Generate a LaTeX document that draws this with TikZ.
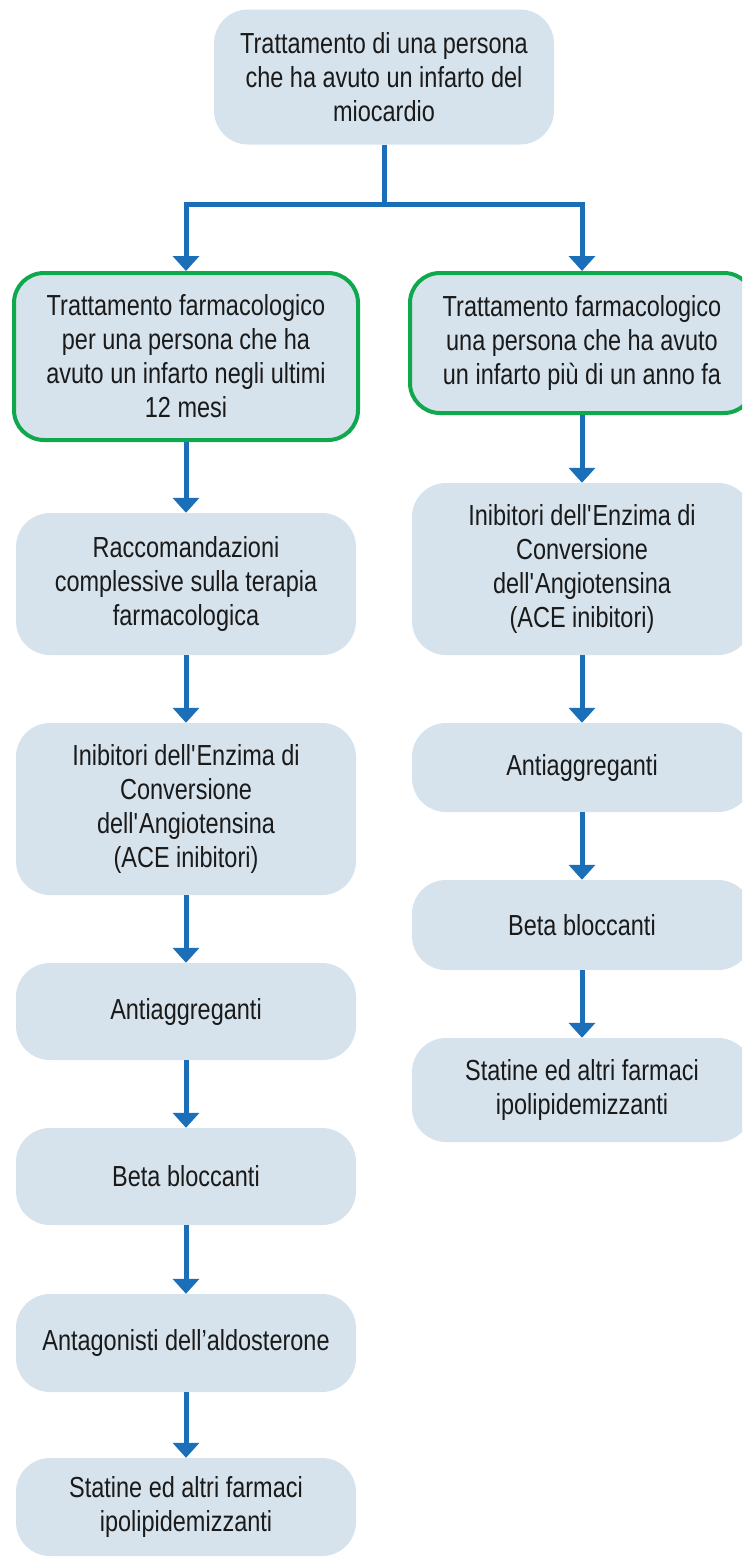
\documentclass[tikz,border=0pt]{standalone}
\usepackage{fontspec}
\setmainfont{Liberation Sans}[FakeStretch=0.81]
\usetikzlibrary{arrows.meta}
\definecolor{boxfill}{RGB}{214,227,236}
\definecolor{arrblue}{RGB}{27,111,184}
\definecolor{boxgreen}{RGB}{16,168,76}
\definecolor{txtgray}{RGB}{26,26,26}
\newcommand{\apo}{\textquotesingle}
\begin{document}
\begin{tikzpicture}[x=1pt, y=-1pt,
        box/.style={fill=boxfill, rounded corners=34pt, minimum width=340pt, align=center,
            text=txtgray, font=\fontsize{29}{34}\selectfont, inner sep=0pt},
        gbox/.style={box, draw=boxgreen, line width=4pt, rounded corners=30pt, minimum width=344pt},
        arr/.style={draw=arrblue, line width=5pt, -{Triangle[width=26pt,length=15pt]}},
        conn/.style={draw=arrblue, line width=5pt}]
    \useasboundingbox (0,0) rectangle (742,1559);
    \clip (0,0) rectangle (742,1559);
    % top
    \node[box, minimum width=340pt, minimum height=135pt] (trat) at (384,77)
        {Trattamento di una persona\\che ha avuto un infarto del\\miocardio};
    \coordinate (split) at (384,204);
    % left column
    \node[gbox, minimum height=167pt] (farmA) at (186,356.5)
        {Trattamento farmacologico\\per una persona che ha\\avuto un infarto negli ultimi\\12 mesi};
    \node[box, minimum height=142pt] (racc) at (186,584)
        {Raccomandazioni\\complessive sulla terapia\\farmacologica};
    \node[box, minimum height=172pt] (aceA) at (186,809)
        {Inibitori dell\apo Enzima di\\Conversione\\dell\apo Angiotensina\\(ACE inibitori)};
    \node[box, minimum height=97pt] (antiA) at (186,1011.5) {Antiaggreganti};
    \node[box, minimum height=97pt] (betaA) at (186,1176.5) {Beta bloccanti};
    \node[box, minimum height=98pt] (aldo) at (186,1343) {Antagonisti dell’aldosterone};
    \node[box, minimum height=98pt] (statA) at (186,1507)
        {Statine ed altri farmaci\\ipolipidemizzanti};
    % right column
    \node[gbox, minimum height=140pt] (farmB) at (582,343)
        {Trattamento farmacologico\\una persona che ha avuto\\un infarto più di un anno fa};
    \node[box, minimum height=172pt] (aceB) at (582,569)
        {Inibitori dell\apo Enzima di\\Conversione\\dell\apo Angiotensina\\(ACE inibitori)};
    \node[box, minimum height=89pt] (antiB) at (582,767.5) {Antiaggreganti};
    \node[box, minimum height=90pt] (betaB) at (582,925) {Beta bloccanti};
    \node[box, minimum height=104pt] (statB) at (582,1090)
        {Statine ed altri farmaci\\ipolipidemizzanti};
    % connectors
    \draw[conn] (trat) -- (split);
    \draw[arr] (split) -| (farmA);
    \draw[arr] (split) -| (farmB);
    \foreach \a/\b in {farmA/racc, racc/aceA, aceA/antiA, antiA/betaA, betaA/aldo, aldo/statA,
                       farmB/aceB, aceB/antiB, antiB/betaB, betaB/statB}
        \draw[arr] (\a) -- (\b);
\end{tikzpicture}
\end{document}
